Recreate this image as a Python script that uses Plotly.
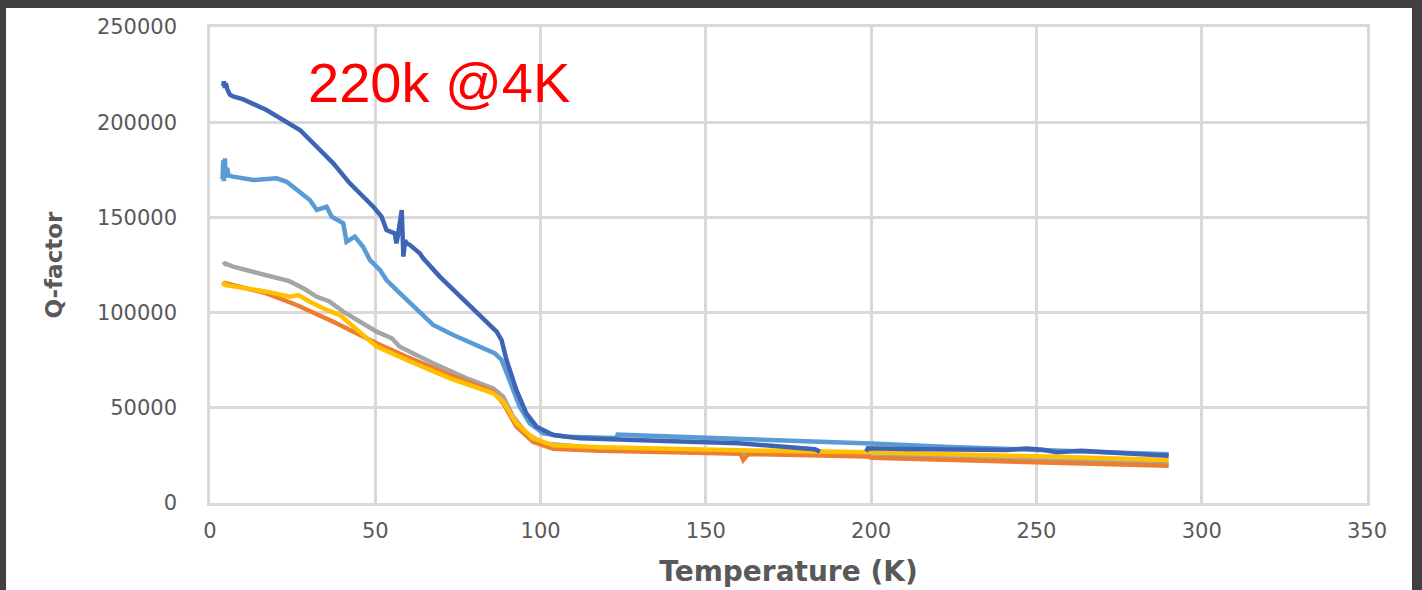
import plotly.graph_objects as go

# ---- data (Temperature K, Q-factor) ----
dark_blue_T = [4.0, 4.2, 4.5, 4.8, 5.2, 6.0, 7.0, 10.1, 17.1, 27.2, 32.3, 37.3, 42.3, 49.4, 51.9, 53.4,
               55.9, 56.4, 56.9, 58.0, 58.5, 59.0, 59.5, 60.5, 63.5, 64.5, 69.5, 71.6, 79.6, 86.7, 88.2,
               89.7, 92.7, 95.7, 98.8, 103.8, 111.9, 124, 140, 160, 170, 180, 183, 184.5, None,
               198.5, 199, 210, 234, 241, 247, 252, 256, 260, 263.5, 275, 290]
dark_blue_Q = [219000, 221500, 218000, 220500, 217500, 214500, 213500, 212000, 206400, 195900, 187100,
               178400, 167900, 155600, 150400, 143400, 141600, 136400, 141000, 153900, 129400, 138000,
               136400, 135500, 131100, 128500, 118900, 115400, 101400, 90000, 85600, 75100, 59300,
               47100, 40100, 35700, 34000, 33100, 32400, 31400, 30000, 28700, 28200, 27000, None,
               27000, 28700, 28400, 27700, 27900, 28600, 28000, 26700, 27300, 27500, 26300, 24800]

light_blue_T = [3.8, 4.0, 4.2, 4.5, 4.8, 5.2, 5.6, 7.0, 13.1, 20.2, 23.2, 27.2, 30.2, 32.3, 35.3, 36.8,
                40.3, 41.3, 43.8, 46.3, 48.4, 51.4, 53.4, 56.4, 61.5, 67.5, 73.6, 80.6, 86.2, 88.2,
                90.7, 93.7, 96.7, 100.8, 107.8, 123.0, 123.3, 150, 175, 200, 224, 250, 270, 290]
light_blue_Q = [170000, 180000, 169000, 181000, 171000, 176000, 172000, 171400, 169600, 170500, 168700,
                163500, 159100, 153900, 155600, 150400, 146900, 137200, 139900, 134600, 127600, 122400,
                117100, 111900, 103100, 93500, 88200, 83000, 78600, 75100, 64600, 50600, 41900, 36600,
                34800, 34200, 35900, 34500, 33000, 31300, 29400, 27700, 26700, 25600]

gray_T = [4.0, 4.5, 7.0, 17.1, 24.0, 28.5, 32.3, 36.0, 40.3, 50.4, 55.0, 57.4, 67.5, 77.6, 85.7, 88.7,
          91.7, 95.7, 100.8, 117.9, 160, 200, 250, 290]
gray_Q = [125000, 125800, 124100, 119700, 116500, 112500, 108300, 106000, 100500, 90000, 86500, 82100,
          73400, 65500, 60200, 55800, 45300, 36600, 31300, 28800, 26400, 24600, 22600, 20800]

orange_T = [4.0, 4.5, 17.1, 26.2, 37.3, 50.4, 59.5, 72.6, 85.7, 88.7, 92.7, 97.7, 103.8, 117.9, 140,
            160.5, 161.3, 162.5, 163.5, 199, 200, 250, 290]
orange_Q = [114500, 115500, 110100, 104000, 95200, 83900, 76800, 67200, 58500, 52400, 40100, 32200,
            28500, 27500, 26700, 25900, 22600, 25200, 25800, 24400, 23700, 21600, 19500]

yellow_T = [4.0, 4.3, 4.6, 17.1, 24.2, 26.7, 30.2, 35.3, 39.3, 50.4, 59.5, 72.6, 85.7, 88.7, 92.7, 97.7,
            103.8, 117.9, 160, 200, 250, 290]
yellow_Q = [114000, 116000, 114500, 111000, 108300, 109200, 105700, 101400, 98700, 82100, 75100, 65500,
            57600, 53200, 41900, 34000, 30300, 29300, 27700, 26600, 24500, 22600]

x_ticks = [0, 50, 100, 150, 200, 250, 300, 350]
y_ticks = [0, 50000, 100000, 150000, 200000, 250000]

series = [
    ("gray", gray_T, gray_Q, "#A5A5A5"),
    ("orange", orange_T, orange_Q, "#ED7D31"),
    ("yellow", yellow_T, yellow_Q, "#FFC000"),
    ("light blue", light_blue_T, light_blue_Q, "#5B9BD5"),
    ("dark blue", dark_blue_T, dark_blue_Q, "#3E65B5"),
]

fig = go.Figure()
for name, t, q, c in series:
    fig.add_trace(go.Scatter(x=t, y=q, mode="lines", name=name,
                             line=dict(color=c, width=4.5), connectgaps=False))

grid = "#D9D9D9"
tick_font = dict(family="DejaVu Sans", size=21, color="#595959")

fig.update_layout(
    width=1422, height=590,
    margin=dict(l=210, r=55, t=27, b=87),
    paper_bgcolor="#404040",
    plot_bgcolor="white",
    showlegend=False,
    xaxis=dict(range=[0, 350], tickvals=x_ticks, showgrid=True, gridcolor=grid, gridwidth=2.5,
               showline=True, linecolor=grid, linewidth=2.5, mirror=True, zeroline=False,
               ticks="", tickfont=tick_font, ticklabelstandoff=7, automargin=False,
               title=dict(text="Temperature (K)", standoff=20,
                          font=dict(family="DejaVu Sans", size=28, color="#595959", weight="bold"))),
    yaxis=dict(range=[0, 250000], tickvals=y_ticks, tickformat="d", showgrid=True, gridcolor=grid,
               gridwidth=2.5, showline=True, linecolor=grid, linewidth=2.5, mirror=True, zeroline=False,
               ticks="", tickfont=tick_font, ticklabelstandoff=26, automargin=False,
               title=dict(text="Q-factor", standoff=28,
                          font=dict(family="DejaVu Sans", size=23, color="#595959", weight="bold"))),
    shapes=[dict(type="rect", xref="paper", yref="paper", x0=-0.1763, x1=1.0389, y0=-0.25, y1=1.0399,
                 fillcolor="white", line=dict(width=0), layer="below")],
    annotations=[dict(x=29, y=221000, xref="x", yref="y", text="220k @4K", showarrow=False,
                      xanchor="left", yanchor="middle",
                      font=dict(family="Liberation Sans", size=56, color="#FF0000"))],
)

fig.write_html("out.html", post_script="document.body.style.margin='0';",
               config={"displayModeBar": False})
